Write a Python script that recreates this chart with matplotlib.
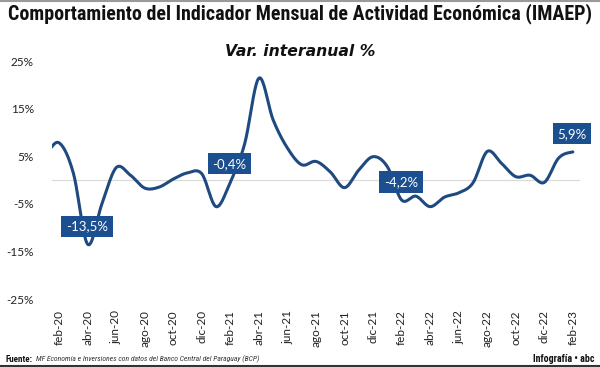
import matplotlib
matplotlib.use("Agg")
import matplotlib.pyplot as plt
from matplotlib import font_manager
from matplotlib.ticker import FuncFormatter
import numpy as np

# monthly series, jan-20 .. feb-23 (year-on-year %)
months = ["ene-20", "feb-20", "mar-20", "abr-20", "may-20", "jun-20", "jul-20", "ago-20",
          "sep-20", "oct-20", "nov-20", "dic-20", "ene-21", "feb-21", "mar-21", "abr-21",
          "may-21", "jun-21", "jul-21", "ago-21", "sep-21", "oct-21", "nov-21", "dic-21",
          "ene-22", "feb-22", "mar-22", "abr-22", "may-22", "jun-22", "jul-22", "ago-22",
          "sep-22", "oct-22", "nov-22", "dic-22", "ene-23", "feb-23"]
values = [5.5, 7.8, 1.4, -13.5, -5.0, 2.6, 1.0, -1.7,
          -1.5, 0.2, 1.5, 1.3, -5.6, -0.4, 7.6, 21.4,
          12.6, 6.7, 3.2, 3.9, 1.7, -1.6, 2.1, 4.9,
          2.8, -4.2, -3.4, -5.6, -3.6, -2.7, -0.6, 6.0,
          3.5, 0.7, 1.0, -0.5, 4.6, 5.9]
labelled = ["abr-20", "feb-21", "feb-22", "feb-23"]
label_text = ["-13,5%", "-0,4%", "-4,2%", "5,9%"]
yticks = [-25, -15, -5, 5, 15, 25]

NAVY = "#1f4a80"
BOX = "#1b4f8f"

names = {f.name for f in font_manager.fontManager.ttflist}
narrow = "DejaVu Sans"
for cand in ["Liberation Sans Narrow", "Roboto Condensed", "Open Sans Condensed",
             "Noto Sans Condensed", "DejaVu Sans Condensed"]:
    if cand in names:
        narrow = cand
        break
plt.rcParams["font.family"] = ["Lato", "DejaVu Sans"]


def catmull_rom(x, y, n=20):
    x = np.asarray(x, float)
    y = np.asarray(y, float)
    px = np.concatenate([[2 * x[0] - x[1]], x, [2 * x[-1] - x[-2]]])
    py = np.concatenate([[y[0]], y, [y[-1]]])
    xs, ys = [], []
    t = np.linspace(0, 1, n, endpoint=False)
    for i in range(1, len(px) - 2):
        for arr, out in ((px, xs), (py, ys)):
            p0, p1, p2, p3 = arr[i - 1], arr[i], arr[i + 1], arr[i + 2]
            out.append(0.5 * (2 * p1 + (-p0 + p2) * t + (2 * p0 - 5 * p1 + 4 * p2 - p3) * t ** 2
                              + (-p0 + 3 * p1 - 3 * p2 + p3) * t ** 3))
    xs.append([x[-1]])
    ys.append([y[-1]])
    return np.concatenate(xs), np.concatenate(ys)


fig = plt.figure(figsize=(6.0, 3.67), dpi=100)
ax = fig.add_axes([52 / 600, 1 - 299 / 367, 528 / 600, 238 / 367])

idx = np.arange(len(months))
sx, sy = catmull_rom(idx, values)
ax.axhline(0, color="#d9d9d9", lw=0.8, zorder=1)
ax.plot(sx, sy, color=NAVY, lw=2.2, solid_capstyle="round", zorder=3)

ax.set_xlim(0.5, len(months) - 0.5)
ax.set_ylim(-25, 25)
ax.set_yticks(yticks)
ax.yaxis.set_major_formatter(FuncFormatter(lambda v, p: f"{v:.0f}%"))
ticks = idx[1::2]
ax.set_xticks(ticks)
ax.set_xticklabels([months[i] for i in ticks], rotation=90)
ax.tick_params(axis="both", length=0, labelsize=8.5, colors="#222222")
ax.tick_params(axis="x", pad=8)
ax.tick_params(axis="y", pad=13)
for s in ax.spines.values():
    s.set_visible(False)

for name, txt in zip(labelled, label_text):
    i = months.index(name)
    ax.annotate(txt, xy=(i, values[i]), xytext=(-0.5, 13), textcoords="offset points",
                ha="center", va="center", color="white", fontsize=9.5, zorder=5,
                bbox=dict(boxstyle="square,pad=0.35", fc=BOX, ec="none"))

renderer = fig.canvas.get_renderer()


def fit(t, width_px):
    w = t.get_window_extent(renderer).width
    t.set_fontsize(t.get_fontsize() * width_px / w)


title = fig.text(8 / 600, 1 - 14 / 367, "Comportamiento del Indicador Mensual de Actividad Económica (IMAEP)",
                 family=narrow, fontweight="bold", fontstretch="condensed", fontsize=13,
                 ha="left", va="center", color="#111111")
fit(title, 582)
sub = fig.text(300 / 600, 1 - 52 / 367, "Var. interanual %", family="DejaVu Sans",
               fontweight="bold", style="italic", fontsize=12, ha="center", va="center", color="#111111")
fit(sub, 150)

f1 = fig.text(6 / 600, 1 - 359 / 367, "Fuente:", family=narrow, fontweight="bold",
              fontstretch="condensed", fontsize=6.5, ha="left", va="center", color="#111111")
w1 = f1.get_window_extent(renderer).width
fig.text((6 + w1 + 3) / 600, 1 - 359 / 367,
         "MF Economía e Inversiones con datos del Banco Central del Paraguay (BCP)",
         family=narrow, style="italic", fontsize=5.5,
         ha="left", va="center", color="#333333")
f3 = fig.text(594 / 600, 1 - 359 / 367, "Infografía • abc", family=narrow, fontweight="bold",
              fontstretch="condensed", fontsize=7, ha="right", va="center", color="#111111")
fit(f3, 62)

fig.add_artist(plt.Line2D([0, 1], [1 - 1 / 367, 1 - 1 / 367], color="#9a9a9a", lw=1.5))
fig.add_artist(plt.Line2D([0, 1], [1 / 367, 1 / 367], color="#333333", lw=1.5))

fig.savefig("out.png", dpi=100)
